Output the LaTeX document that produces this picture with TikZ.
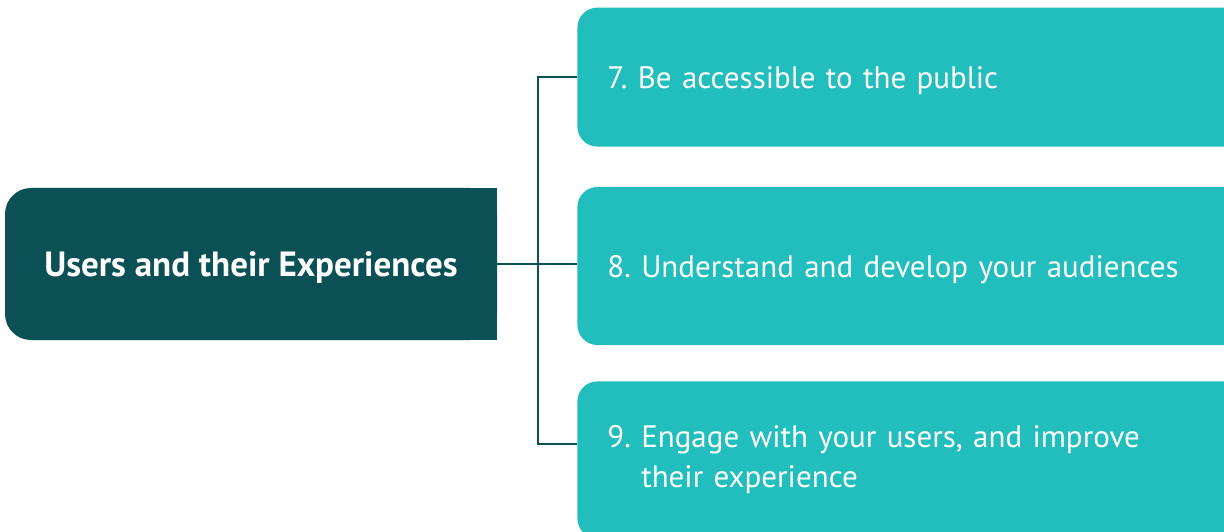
\documentclass[tikz,border=0pt]{standalone}
\usepackage{fontspec}
\setmainfont{PT Sans}
\setsansfont{PT Sans}
\frenchspacing
\usetikzlibrary{positioning,backgrounds}
\definecolor{udark}{RGB}{11,80,84}
\definecolor{uteal}{RGB}{34,189,189}
\tikzset{
  themebox/.style={fill=udark,text=white,rounded corners=26pt,
    minimum width=492pt,minimum height=152pt,text depth=0pt,
    font=\sffamily\bfseries\fontsize{35}{40}\selectfont},
  goalbox/.style={fill=uteal,text=white,rounded corners=20pt,
    minimum width=700pt,text width=640pt,inner xsep=30pt,align=left,
    font=\sffamily\fontsize{31}{40}\selectfont},
  link/.style={draw=udark,line width=2.4pt}
}
\begin{document}
\begin{tikzpicture}[font=\sffamily,x=1pt,y=-1pt]
  \useasboundingbox (0,0) rectangle (1224,532);
  \clip (0,0) rectangle (1224,532);
  \node[themebox] (theme) at (251,264) {Users and their Experiences};
  \begin{scope}[on background layer]
  \fill[udark] (theme.north) rectangle (theme.south east);
  \end{scope}
  \node[goalbox,text depth=0pt,minimum height=158pt,right=80pt of theme,
  yshift=-2pt] (goal-8) {8. Understand and develop your audiences};
  \node[goalbox,text depth=0pt,minimum height=139pt,above=40pt of goal-8]
  (goal-7) {7. Be accessible to the public};
  \node[goalbox,minimum height=157pt,below=36pt of goal-8] (goal-9)
  {9. Engage with your users, and improve\\\phantom{9.\ }their experience};
  \coordinate (spine) at (538,264);
  \draw[link] (theme) -- (theme -| goal-8.west);
  \draw[link] (goal-7.west) -| (spine) |- ([yshift=16pt]goal-9.west);
\end{tikzpicture}
\end{document}
